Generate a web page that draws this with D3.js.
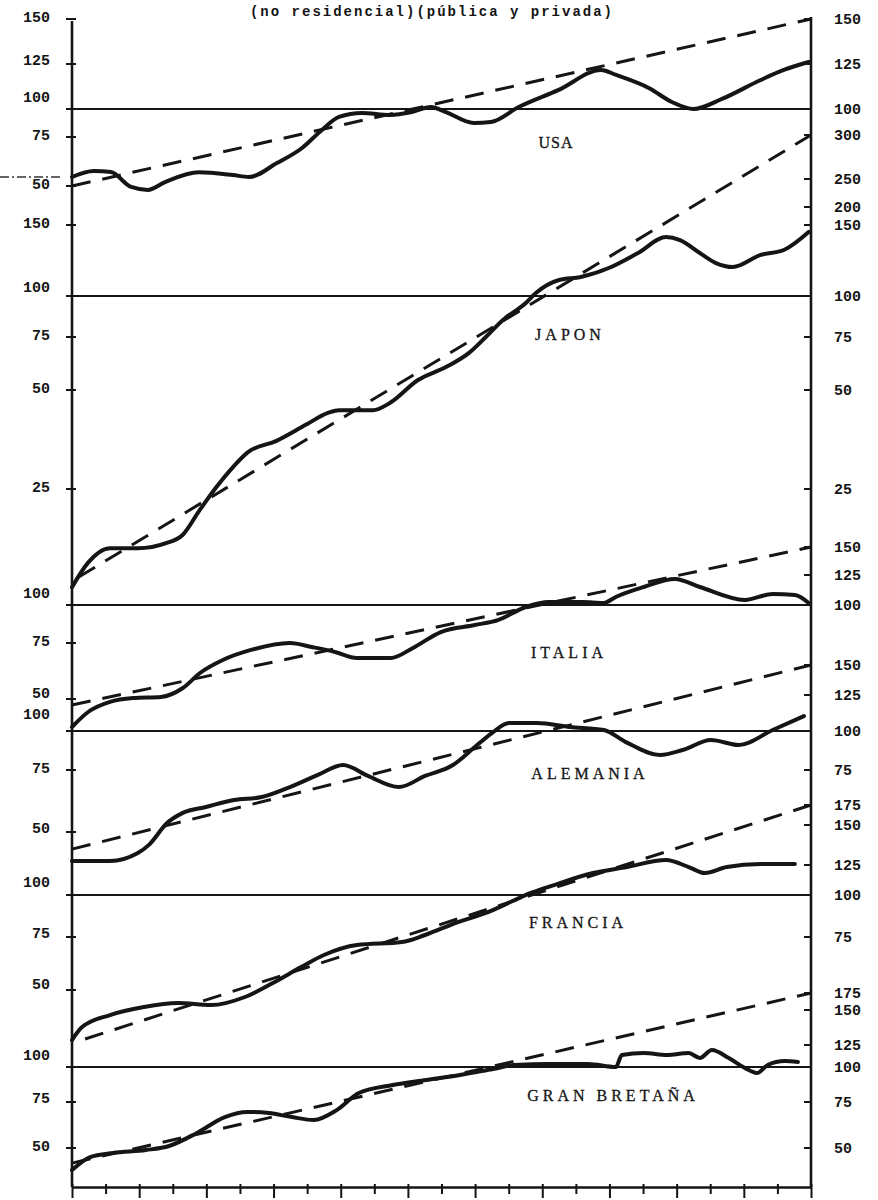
<!DOCTYPE html>
<html>
<head>
<meta charset="utf-8">
<script src="https://cdn.jsdelivr.net/npm/d3@7"></script>
<style>
  html, body { margin: 0; padding: 0; background: #fff; }
  svg { display: block; }
</style>
</head>
<body>
<div id="chart"></div>
<script>
// index 100 = base; solid = actual series, dashed = trend
const titleText = "(no residencial)(pública y privada)";

const usaYears = [1950.0, 1950.65, 1951.16, 1951.76, 1952.26, 1952.77, 1953.78, 1954.79, 1955.27, 1956.1, 1956.85, 1957.44, 1957.95, 1958.63, 1959.46, 1960.12, 1960.68, 1961.13, 1961.96, 1962.47, 1963.3, 1964.49, 1965.75, 1966.2, 1967.17, 1967.86, 1968.5, 1969.35, 1970.5, 1971.19, 1971.93];
const usaValues = [54.6, 57.7, 57.1, 49.5, 48.0, 52.0, 57.0, 55.6, 54.6, 61.7, 69.4, 81.3, 92.9, 96.4, 94.6, 97.3, 101.1, 97.3, 87.5, 88.4, 101.1, 110.6, 121.7, 118.9, 111.7, 103.9, 100.0, 105.6, 116.1, 121.7, 126.1];
const usaTrendYears = [1950, 1972];
const usaTrend = [50, 150];

const japYears = [1950.0, 1950.48, 1951.13, 1951.96, 1952.8, 1953.3, 1953.8, 1954.3, 1954.8, 1955.24, 1956.07, 1956.96, 1957.62, 1957.95, 1958.96, 1959.46, 1960.3, 1961.13, 1961.82, 1962.32, 1962.83, 1963.51, 1963.81, 1964.5, 1965.15, 1965.98, 1966.85, 1967.68, 1968.1, 1968.69, 1969.17, 1969.67, 1970.5, 1971.19, 1971.93];
const japValues = [13.4, 16.3, 18.0, 18.0, 18.6, 19.6, 22.5, 25.5, 30.6, 34.3, 37.1, 41.2, 44.2, 44.9, 44.9, 46.7, 54.7, 60.8, 67.5, 75.0, 85.4, 95.7, 102.1, 111.3, 113.4, 119.7, 130.3, 141.5, 139.4, 130.3, 123.2, 120.4, 128.9, 132.4, 145.1];
const japTrendYears = [1950.2, 1972];
const japTrend = [14.6, 300];

const itaYears = [1950.0, 1950.48, 1951.13, 1951.82, 1952.65, 1953.3, 1953.81, 1954.49, 1955.33, 1956.49, 1957.14, 1957.83, 1958.48, 1959.49, 1960.15, 1960.98, 1961.99, 1962.68, 1963.51, 1964.2, 1965.18, 1965.83, 1966.19, 1967.02, 1967.95, 1968.69, 1970.03, 1970.86, 1971.52, 1971.93];
const itaValues = [37.5, 44.2, 48.7, 50.4, 50.9, 54.9, 61.6, 67.4, 71.9, 75.0, 73.2, 71.0, 68.3, 68.3, 72.8, 82.2, 86.8, 90.1, 98.7, 102.5, 102.5, 101.7, 106.7, 115.0, 121.7, 115.0, 104.2, 109.2, 108.3, 101.7];
const itaTrendYears = [1950, 1972];
const itaTrend = [47.3, 150];

const aleYears = [1950.0, 1951.13, 1951.96, 1952.29, 1952.83, 1953.3, 1953.99, 1954.82, 1955.65, 1956.49, 1957.32, 1958.07, 1958.81, 1959.73, 1960.51, 1961.34, 1961.99, 1962.5, 1963.01, 1963.84, 1964.82, 1965.83, 1966.49, 1967.5, 1968.18, 1969.02, 1969.85, 1970.86, 1971.79];
const aleValues = [38.3, 38.3, 41.5, 44.8, 53.6, 57.7, 60.1, 62.9, 64.1, 68.1, 73.0, 78.2, 72.6, 68.1, 72.6, 78.2, 89.7, 98.7, 105.6, 105.6, 102.8, 100.7, 92.9, 84.6, 87.8, 94.2, 91.0, 100.7, 110.4];
const aleTrendYears = [1950, 1972];
const aleTrend = [43.1, 150];

const fraYears = [1950.0, 1950.3, 1951.13, 1952.14, 1953.15, 1954.14, 1955.15, 1955.98, 1956.82, 1957.5, 1958.48, 1959.82, 1960.51, 1961.49, 1962.32, 1963.18, 1963.66, 1964.35, 1965.51, 1966.52, 1967.68, 1968.36, 1968.84, 1969.49, 1970.5, 1971.52];
const fraValues = [26.4, 32.5, 38.2, 42.0, 43.9, 42.9, 46.7, 53.3, 60.8, 66.5, 71.2, 72.6, 76.2, 83.9, 89.3, 97.0, 101.7, 108.3, 118.3, 123.3, 128.1, 123.3, 118.3, 123.3, 125.6, 125.6];
const fraTrendYears = [1950.39, 1972];
const fraTrend = [26.9, 175];

const gbrYears = [1950.0, 1950.54, 1951.22, 1952.2, 1952.89, 1953.72, 1954.55, 1955.21, 1955.86, 1956.55, 1957.2, 1957.89, 1958.54, 1959.55, 1960.54, 1961.55, 1962.53, 1963.18, 1964.2, 1965.36, 1966.19, 1966.37, 1967.02, 1967.71, 1968.36, 1968.69, 1969.05, 1969.55, 1970.03, 1970.39, 1970.71, 1971.22, 1971.61];
const gbrValues = [38.0, 45.1, 47.3, 48.9, 51.1, 58.2, 66.8, 69.6, 69.0, 66.8, 65.2, 70.7, 81.4, 87.1, 90.7, 94.3, 98.6, 102.3, 103.4, 103.4, 100.0, 113.6, 115.9, 113.6, 115.9, 110.2, 119.3, 110.2, 99.3, 95.7, 102.3, 106.8, 105.7];
const gbrTrendYears = [1950, 1972];
const gbrTrend = [41.8, 175];

const xTickYears = d3.range(1950, 1973);

// layout: each panel has its own hand-drawn (uneven) ratio scale
const panels = [
    { name: "USA", years: usaYears, values: usaValues, trendYears: usaTrendYears, trend: usaTrend,
      domain: [50, 75, 100, 125, 150], range: [186, 137, 109, 64, 19],
      leftTicks: [150, 125, 100, 75, 50], rightTicks: [150, 125, 100],
      labelPos: [556, 142], spacing: 1, shifts: { 100: -12, 125: -4 } },
    { name: "JAPON", years: japYears, values: japValues, trendYears: japTrendYears, trend: japTrend,
      domain: [10, 25, 50, 75, 100, 150, 200, 250, 300], range: [616, 489, 390, 337, 296, 225, 207, 179, 135],
      leftTicks: [150, 100, 75, 50, 25], rightTicks: [300, 250, 200, 150, 100, 75, 50, 25],
      labelPos: [570, 334], spacing: 4, shifts: { 100: -9 } },
    { name: "ITALIA", years: itaYears, values: itaValues, trendYears: itaTrendYears, trend: itaTrend,
      domain: [25, 50, 75, 100, 125, 150], range: [755, 699, 643, 605, 575, 547],
      leftTicks: [100, 75, 50], rightTicks: [150, 125, 100],
      labelPos: [569, 652], spacing: 4, shifts: { 100: -12, 50: -6 } },
    { name: "ALEMANIA", years: aleYears, values: aleValues, trendYears: aleTrendYears, trend: aleTrend,
      domain: [25, 50, 75, 100, 125, 150], range: [894, 832, 770, 731, 695, 665],
      leftTicks: [100, 75, 50], rightTicks: [150, 125, 100, 75],
      labelPos: [590, 773], spacing: 4, shifts: { 100: -17, 50: -4 } },
    { name: "FRANCIA", years: fraYears, values: fraValues, trendYears: fraTrendYears, trend: fraTrend,
      domain: [25, 50, 75, 100, 125, 150, 175], range: [1043, 990, 937, 895, 865, 825, 805],
      leftTicks: [100, 75, 50], rightTicks: [175, 150, 125, 100, 75],
      labelPos: [578, 922], spacing: 4, shifts: { 100: -13, 75: -4, 50: -6 } },
    { name: "GRAN BRETAÑA", years: gbrYears, values: gbrValues, trendYears: gbrTrendYears, trend: gbrTrend,
      domain: [25, 50, 75, 100, 125, 150, 175], range: [1194, 1148, 1102, 1067, 1045, 1010, 993],
      leftTicks: [100, 75, 50], rightTicks: [175, 150, 125, 100, 75, 50],
      labelPos: [613, 1095], spacing: 4, shifts: { 100: -12, 75: -4 } }
];

const width = 878, height = 1200;
const xLeft = 72, xRight = 811, yBottom = 1187;
const ink = "#151515";
const mono = "'Liberation Mono', 'Courier New', monospace";

const x = d3.scaleLinear().domain([1950, 1972]).range([xLeft, xRight]);

const svg = d3.select("#chart")
    .append("svg")
    .attr("width", width)
    .attr("height", height)
    .attr("viewBox", `0 0 ${width} ${height}`);

svg.append("rect").attr("width", width).attr("height", height).attr("fill", "#fff");

svg.append("text")
    .attr("x", 432)
    .attr("y", 16)
    .attr("text-anchor", "middle")
    .style("font-family", mono)
    .style("font-weight", "bold")
    .style("font-size", "14px")
    .style("letter-spacing", "2px")
    .attr("fill", ink)
    .text(titleText);

const topY = d3.scaleLinear().domain(panels[0].domain).range(panels[0].range)(150);

// frame: left and right value axes
svg.append("line").attr("x1", xLeft).attr("x2", xLeft).attr("y1", topY + 2).attr("y2", yBottom)
    .attr("stroke", ink).attr("stroke-width", 2.6);
svg.append("line").attr("x1", xRight).attr("x2", xRight).attr("y1", topY - 2).attr("y2", yBottom)
    .attr("stroke", ink).attr("stroke-width", 2.6);

panels.forEach(function(p, i) {
    const y = d3.scaleLinear().domain(p.domain).range(p.range);
    const g = svg.append("g").attr("class", "panel");

    g.append("line")
        .attr("x1", xLeft).attr("x2", xRight)
        .attr("y1", y(100)).attr("y2", y(100))
        .attr("stroke", ink).attr("stroke-width", 2.2);

    const trendLine = d3.line().x(d => x(d[0])).y(d => y(d[1]));
    g.append("path")
        .datum(d3.zip(p.trendYears, p.trend))
        .attr("d", trendLine)
        .attr("fill", "none")
        .attr("stroke", ink)
        .attr("stroke-width", 3)
        .attr("stroke-dasharray", "19 12");

    const actualLine = d3.line().x(d => x(d[0])).y(d => y(d[1])).curve(d3.curveMonotoneX);
    g.append("path")
        .datum(d3.zip(p.years, p.values))
        .attr("d", actualLine)
        .attr("fill", "none")
        .attr("stroke", ink)
        .attr("stroke-width", 4)
        .attr("stroke-linejoin", "round")
        .attr("stroke-linecap", "round");

    // left ticks + labels
    g.selectAll(".ltick").data(p.leftTicks).enter()
        .append("line")
        .attr("x1", xLeft - 6).attr("x2", xLeft + 4)
        .attr("y1", d => y(d)).attr("y2", d => y(d))
        .attr("stroke", ink).attr("stroke-width", 2);
    g.selectAll(".llab").data(p.leftTicks).enter()
        .append("text")
        .attr("x", 50)
        .attr("y", d => y(d) + (p.shifts[d] !== undefined ? p.shifts[d] : -2))
        .attr("dy", "0.36em")
        .attr("text-anchor", "end")
        .style("font-family", mono)
        .style("font-weight", "bold")
        .style("font-size", "15px")
        .attr("fill", ink)
        .text(d => d);

    // right ticks + labels
    g.selectAll(".rtick").data(p.rightTicks).enter()
        .append("line")
        .attr("x1", xRight - 7).attr("x2", xRight)
        .attr("y1", d => y(d)).attr("y2", d => y(d))
        .attr("stroke", ink).attr("stroke-width", 2);
    g.selectAll(".rlab").data(p.rightTicks).enter()
        .append("text")
        .attr("x", 834)
        .attr("y", d => y(d))
        .attr("dy", "0.36em")
        .style("font-family", mono)
        .style("font-size", "15px")
        .style("font-weight", "bold")
        .attr("fill", ink)
        .text(d => d);

    g.append("text")
        .attr("x", p.labelPos[0])
        .attr("y", p.labelPos[1])
        .attr("dy", "0.36em")
        .attr("text-anchor", "middle")
        .style("font-family", "'Liberation Serif', serif")
        .style("font-size", "16px")
        .style("letter-spacing", p.spacing + "px")
        .attr("fill", ink)
        .attr("stroke", ink)
        .attr("stroke-width", 0.3)
        .text(p.name);

    // leader stub left of the USA series (from the source page)
    if (i === 0) {
        svg.append("line")
            .attr("x1", 0).attr("x2", xLeft - 10)
            .attr("y1", y(p.values[0])).attr("y2", y(p.values[0]))
            .attr("stroke", "#333").attr("stroke-width", 1.6)
            .attr("stroke-dasharray", "9 3 2 3");
    }
});

// time axis, no labels; long ticks every other year
const xAxis = svg.append("g")
    .attr("transform", `translate(0,${yBottom})`)
    .call(d3.axisBottom(x).tickValues(xTickYears).tickSize(9).tickSizeOuter(0).tickFormat(""));
xAxis.select(".domain").attr("stroke", ink).attr("stroke-width", 2.6);
xAxis.selectAll(".tick line")
    .attr("stroke", ink)
    .attr("stroke-width", 2)
    .attr("y1", -3)
    .attr("y2", d => (d - 1950) % 2 === 0 ? 11 : 7);
</script>
</body>
</html>
